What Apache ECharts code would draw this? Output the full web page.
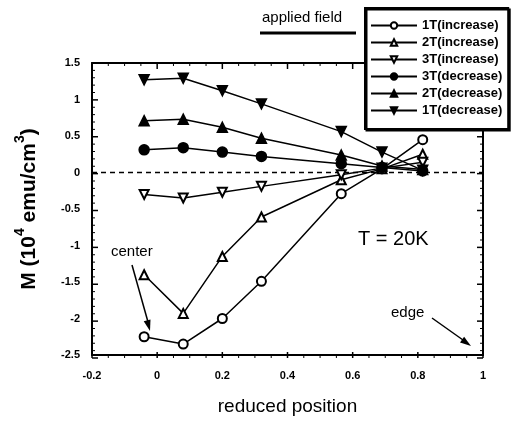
<!DOCTYPE html>
<html>
<head>
<meta charset="utf-8">
<script src="https://cdn.jsdelivr.net/npm/echarts@6/dist/echarts.min.js"></script>
<style>html,body{margin:0;padding:0;background:#fff}#c{width:524px;height:421px}</style>
</head>
<body>
<div id="c"></div>
<script>
var positions = [-0.04, 0.08, 0.2, 0.32, 0.565, 0.69, 0.815];
var inc1T = [-2.25, -2.35, -2.0, -1.49, -0.29, 0.05, 0.45];
var inc2T = [-1.40, -1.93, -1.15, -0.61, -0.10, 0.05, 0.25];
var inc3T = [-0.30, -0.35, -0.27, -0.19, -0.03, 0.06, 0.14];
var dec3T = [0.31, 0.34, 0.28, 0.22, 0.12, 0.07, 0.02];
var dec2T = [0.71, 0.73, 0.62, 0.47, 0.24, 0.09, 0.04];
var dec1T = [1.27, 1.29, 1.12, 0.94, 0.56, 0.28, 0.03];
var seriesNames = ['1T(increase)', '2T(increase)', '3T(increase)', '3T(decrease)', '2T(decrease)', '1T(decrease)'];
var xTicks = {min: -0.2, max: 1, interval: 0.2, minorSplit: 4};
var yTicks = {min: -2.5, max: 1.5, interval: 0.5, minorSplit: 5};

function pairs(vals) { return positions.map(function (x, i) { return [x, vals[i]]; }); }

var FONT = 'Liberation Sans, Arial, sans-serif';
var W = 524, H = 421;
var GRID = {left: 92, right: 41, top: 63, bottom: 63};
var chart = echarts.init(document.getElementById('c'));

function mkSeries(name, vals, symbol, rotate, size) {
  return {
    name: name, type: 'line', data: pairs(vals),
    symbol: symbol, symbolSize: size, symbolRotate: rotate,
    showSymbol: true,
    lineStyle: {color: '#000', width: 1.5},
    itemStyle: {color: '#000', borderColor: '#000', borderWidth: 1.5},
    z: 3
  };
}

var series = [
  mkSeries(seriesNames[0], inc1T, 'emptyCircle', 0, 9),
  mkSeries(seriesNames[1], inc2T, 'emptyTriangle', 0, 9),
  mkSeries(seriesNames[2], inc3T, 'emptyTriangle', 180, 9),
  mkSeries(seriesNames[3], dec3T, 'circle', 0, 10),
  mkSeries(seriesNames[4], dec2T, 'triangle', 0, 10),
  mkSeries(seriesNames[5], dec1T, 'triangle', 180, 10),
  {
    name: 'zero', type: 'line', data: [[xTicks.min, 0], [xTicks.max, 0]],
    symbol: 'none', lineStyle: {color: '#000', width: 1.5, type: [5, 4]}, z: 2, silent: true
  }
];

function axisCommon() {
  return {
    axisLine: {show: true, onZero: false, lineStyle: {color: '#000', width: 2}},
    axisTick: {show: false},
    minorTick: {show: false},
    splitLine: {show: false},
    axisLabel: {color: '#000', fontFamily: FONT, fontWeight: 'bold', fontSize: 11}
  };
}

var xMain = Object.assign(axisCommon(), {
  type: 'value', position: 'bottom', min: xTicks.min, max: xTicks.max, interval: xTicks.interval,
  name: 'reduced position', nameLocation: 'middle', nameGap: 42,
  nameTextStyle: {color: '#000', fontFamily: FONT, fontSize: 19}
});
xMain.axisLabel.margin = 15;
xMain.axisLabel.formatter = function (v) { return String(Math.round(v * 10) / 10); };

var xTop = Object.assign(axisCommon(), {
  type: 'value', position: 'top', min: xTicks.min, max: xTicks.max, interval: xTicks.interval
});
xTop.axisLabel = {show: false};

var yMain = Object.assign(axisCommon(), {
  type: 'value', position: 'left', min: yTicks.min, max: yTicks.max, interval: yTicks.interval,
  name: '{m|M (10}{s|4}{m| emu/cm}{s|3}{m|)}', nameLocation: 'middle', nameGap: 52, nameRotate: 90,
  nameTextStyle: {
    color: '#000', fontFamily: FONT, fontSize: 21,
    rich: {
      m: {fontFamily: FONT, fontSize: 21, fontWeight: 'bold', lineHeight: 27, color: '#000', verticalAlign: 'bottom'},
      s: {fontFamily: FONT, fontSize: 14, fontWeight: 'bold', lineHeight: 27, color: '#000', verticalAlign: 'top'}
    }
  }
});
yMain.axisLabel.margin = 12;
yMain.axisLabel.formatter = function (v) { return String(Math.round(v * 10) / 10); };

var yRight = Object.assign(axisCommon(), {
  type: 'value', position: 'right', min: yTicks.min, max: yTicks.max, interval: yTicks.interval
});
yRight.axisLabel = {show: false};

function arrowHead(x1, y1, x2, y2, len, wid) {
  var a = Math.atan2(y2 - y1, x2 - x1);
  var bx = x2 - len * Math.cos(a), by = y2 - len * Math.sin(a);
  var px = -Math.sin(a) * wid, py = Math.cos(a) * wid;
  return [[x2, y2], [bx + px, by + py], [bx - px, by - py]];
}

var graphics = [
  {type: 'text', left: 262, top: 10, style: {text: 'applied field', fontFamily: FONT, fontSize: 15, fill: '#000'}},
  {type: 'line', shape: {x1: 260, y1: 33, x2: 356, y2: 33}, style: {stroke: '#000', lineWidth: 3}},
  {type: 'text', left: 358, top: 229, style: {text: 'T = 20K', fontFamily: FONT, fontSize: 20, fill: '#000'}},
  {type: 'text', left: 111, top: 244, style: {text: 'center', fontFamily: FONT, fontSize: 15, fill: '#000'}},
  {type: 'text', left: 391, top: 305, style: {text: 'edge', fontFamily: FONT, fontSize: 15, fill: '#000'}},
  {type: 'line', shape: {x1: 132, y1: 265, x2: 148, y2: 322}, style: {stroke: '#000', lineWidth: 1.5}},
  {type: 'polygon', shape: {points: arrowHead(132, 265, 150, 331, 11, 3.5)}, style: {fill: '#000'}},
  {type: 'line', shape: {x1: 432, y1: 318, x2: 463, y2: 340}, style: {stroke: '#000', lineWidth: 1.5}},
  {type: 'polygon', shape: {points: arrowHead(432, 318, 471, 346, 11, 3.5)}, style: {fill: '#000'}}
];

// Inside tick marks on all four sides (axis decoration), mapped linearly over the grid box.
var gx0 = GRID.left, gx1 = W - GRID.right, gy0 = GRID.top, gy1 = H - GRID.bottom;
function xPx(v) { return gx0 + (v - xTicks.min) / (xTicks.max - xTicks.min) * (gx1 - gx0); }
function yPx(v) { return gy1 - (v - yTicks.min) / (yTicks.max - yTicks.min) * (gy1 - gy0); }
var nx = Math.round((xTicks.max - xTicks.min) / xTicks.interval) * xTicks.minorSplit;
for (var i = 0; i <= nx; i++) {
  var px = xPx(xTicks.min + i * xTicks.interval / xTicks.minorSplit);
  var major = (i % xTicks.minorSplit === 0);
  var len = major ? 6 : 3, w = major ? 1.5 : 1;
  graphics.push({type: 'line', silent: true, shape: {x1: px, y1: gy1, x2: px, y2: gy1 - len}, style: {stroke: '#000', lineWidth: w}});
  graphics.push({type: 'line', silent: true, shape: {x1: px, y1: gy0, x2: px, y2: gy0 + len}, style: {stroke: '#000', lineWidth: w}});
}
var ny = Math.round((yTicks.max - yTicks.min) / yTicks.interval) * yTicks.minorSplit;
for (var j = 0; j <= ny; j++) {
  var py = yPx(yTicks.min + j * yTicks.interval / yTicks.minorSplit);
  var majorY = (j % yTicks.minorSplit === 0);
  var lenY = majorY ? 6 : 3, wY = majorY ? 1.5 : 1;
  graphics.push({type: 'line', silent: true, shape: {x1: gx0, y1: py, x2: gx0 + lenY, y2: py}, style: {stroke: '#000', lineWidth: wY}});
  graphics.push({type: 'line', silent: true, shape: {x1: gx1, y1: py, x2: gx1 - lenY, y2: py}, style: {stroke: '#000', lineWidth: wY}});
}

chart.setOption({
  animation: false,
  backgroundColor: '#fff',
  grid: GRID,
  xAxis: [xMain, xTop],
  yAxis: [yMain, yRight],
  legend: {
    data: seriesNames,
    orient: 'vertical', left: 365, top: 8, z: 10,
    padding: [11, 6, 12, 5],
    itemWidth: 46, itemHeight: 8, itemGap: 4,
    backgroundColor: '#fff', borderColor: '#000', borderWidth: 2,
    shadowColor: '#000', shadowOffsetX: 1.5, shadowOffsetY: 1.5, shadowBlur: 0,
    textStyle: {color: '#000', fontFamily: FONT, fontWeight: 'bold', fontSize: 13, lineHeight: 12},
    selectedMode: false
  },
  series: series,
  graphic: {elements: graphics}
});
</script>
</body>
</html>
